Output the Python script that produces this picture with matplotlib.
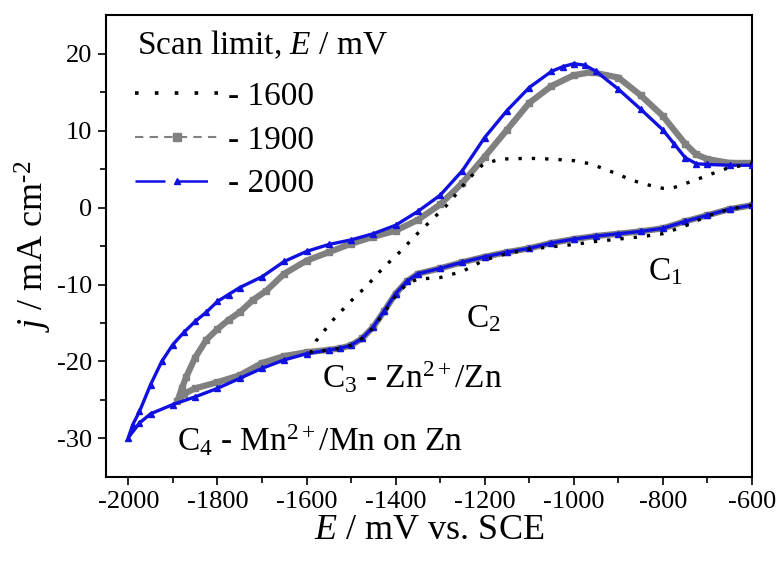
import matplotlib
matplotlib.use("Agg")
import matplotlib.pyplot as plt
from matplotlib.lines import Line2D

plt.rcParams['font.family'] = ['Liberation Serif', 'DejaVu Serif']
plt.rcParams['mathtext.fontset'] = 'custom'
plt.rcParams['mathtext.rm'] = 'Liberation Serif'
plt.rcParams['mathtext.it'] = 'Liberation Serif:italic'
plt.rcParams['mathtext.default'] = 'regular'
plt.rcParams['axes.unicode_minus'] = False

# scan limit -1600 mV (cathodic then anodic)
E_1600 = [-600, -650, -700, -750, -800, -850, -900, -950, -1000, -1050, -1100, -1150,
          -1200, -1250, -1300, -1350, -1375, -1400, -1425, -1450, -1475, -1500, -1525,
          -1550, -1590,
          -1578, -1542, -1503, -1465, -1429, -1391, -1353, -1317, -1280, -1240, -1204,
          -1166, -1100, -1050, -1000, -964, -930, -900, -867, -830, -800, -780, -755,
          -717, -680, -656, -600]
j_1600 = [0.3, -0.2, -1.1, -2.4, -3.4, -3.8, -4.1, -4.4, -4.8, -5.1, -5.4, -6.0,
          -6.8, -8.3, -9.1, -9.3, -9.9, -11.5, -13.6, -15.6, -17.0, -17.9, -18.3,
          -18.5, -18.8,
          -17.3, -14.7, -12.3, -10.2, -7.9, -5.8, -3.5, -1.5, 0.6, 3.5, 5.6,
          6.3, 6.4, 6.3, 6.1, 5.7, 5.0, 4.3, 3.5, 2.9, 2.5, 2.5, 3.0,
          3.8, 4.6, 5.1, 5.7]

# scan limit -1900 mV
E_1900 = [-600, -650, -700, -750, -800, -850, -900, -950, -1000, -1050, -1100, -1150,
          -1200, -1250, -1300, -1350, -1375, -1400, -1425, -1450, -1475, -1500, -1525,
          -1550, -1600, -1650, -1700, -1750, -1800, -1850, -1875, -1890,
          -1880, -1870, -1850, -1825, -1800, -1775, -1750, -1720, -1690, -1650, -1600,
          -1550, -1500, -1450, -1400, -1350, -1300, -1250, -1200, -1150, -1100, -1050,
          -1000, -960, -900, -850, -800, -750, -725, -700, -650, -600]
j_1900 = [0.3, -0.2, -1.0, -1.8, -2.7, -3.1, -3.4, -3.7, -4.1, -4.6, -5.3, -5.8,
          -6.4, -7.1, -7.9, -8.6, -9.6, -11.2, -13.4, -15.5, -17.0, -17.9, -18.3,
          -18.5, -18.8, -19.3, -20.2, -21.8, -22.7, -23.5, -24.2, -25.2,
          -23.5, -22.0, -19.5, -17.2, -15.8, -14.6, -13.6, -12.0, -10.8, -8.6, -6.9,
          -5.8, -4.7, -3.8, -3.0, -1.6, 0.4, 3.2, 6.6, 10.1, 13.6, 15.8,
          17.2, 17.6, 16.9, 14.6, 11.9, 8.3, 6.9, 6.3, 5.8, 5.8]

# scan limit -2000 mV
E_2000 = [-600, -650, -700, -750, -800, -850, -900, -950, -1000, -1050, -1100, -1150,
          -1200, -1250, -1300, -1350, -1375, -1400, -1425, -1450, -1475, -1500, -1525,
          -1550, -1600, -1650, -1700, -1750, -1800, -1850, -1900, -1950, -1975, -2000,
          -1990, -1975, -1950, -1925, -1900, -1875, -1850, -1825, -1800, -1775, -1750,
          -1700, -1650, -1600, -1550, -1500, -1450, -1400, -1350, -1300, -1250, -1200,
          -1150, -1100, -1050, -1025, -1000, -975, -950, -900, -850, -800, -775, -750,
          -725, -700, -650, -600]
j_2000 = [0.3, -0.2, -1.0, -1.8, -2.7, -3.1, -3.4, -3.7, -4.1, -4.6, -5.3, -5.8,
          -6.4, -7.1, -7.9, -8.6, -9.6, -11.2, -13.4, -15.5, -17.0, -17.9, -18.3,
          -18.5, -19.0, -19.8, -20.9, -22.2, -23.5, -24.6, -25.6, -26.8, -28.0, -29.9,
          -28.2, -26.5, -23.0, -20.0, -17.8, -16.2, -14.8, -13.6, -12.2, -11.3, -10.4,
          -9.0, -7.0, -5.7, -4.8, -4.2, -3.4, -2.3, -0.5, 1.6, 4.8, 9.1,
          12.6, 15.6, 17.7, 18.3, 18.7, 18.5, 17.7, 15.4, 12.8, 10.1, 8.3, 6.5,
          5.7, 5.6, 5.5, 5.5]

labels = ['- 1600', '- 1900', '- 2000']
blue = '#1010e0'
gray = '#808080'

fig = plt.figure(figsize=(7.8, 5.63), dpi=100)
ax = fig.add_axes([0.136, 0.153, 0.828, 0.820])

ax.plot(E_1900, j_1900, color=gray, lw=4.5, marker='s', ms=5, mec=gray, zorder=2)
ax.plot(E_2000, j_2000, color=blue, lw=2.4, marker='^', ms=4, mec=blue, zorder=3)
ax.plot(E_1600, j_1600, color='black', lw=2.4, ls=(0, (1, 3)), zorder=4)

ax.set_xlim(-2050, -600)
ax.set_ylim(-35, 25)
ax.set_xticks(range(-2000, -599, 200))
ax.set_xticks(range(-1900, -600, 200), minor=True)
ax.set_yticks(range(-30, 21, 10))
ax.set_yticks(range(-25, 25, 10), minor=True)
ax.tick_params(which='both', direction='out', width=1.2, labelsize=19, top=False, right=False)
ax.tick_params(which='major', length=6, pad=4)
ax.tick_params(which='minor', length=4)
for s in ax.spines.values():
    s.set_linewidth(1.5)

ax.set_xlabel(r'$\mathit{E}$ / mV vs. SCE', fontsize=26, labelpad=1)
ax.set_ylabel(r'$\mathit{j}$ / mA cm$^{\text{-}2}$', fontsize=26, labelpad=2)

ax.text(-834, -9.5, 'C$_1$', fontsize=24)
ax.text(-1243, -15.6, 'C$_2$', fontsize=24)
ax.text(-1566, -23.5, 'C$_3$ - Zn$^{2+}$/Zn', fontsize=24)
ax.text(-1890, -31.6, 'C$_4$ - Mn$^{2+}$/Mn on Zn', fontsize=24)

ax.text(0.048, 0.935, r'Scan limit, $\mathit{E}$ / mV', transform=ax.transAxes,
        fontsize=24, va='center', ha='left')

handles = [
    Line2D([], [], color='black', lw=2.6, ls=(0, (1, 4.5))),
    Line2D([], [], color=gray, lw=1.5, ls=(0, (4, 3)), marker='s', ms=6),
    Line2D([], [], color=blue, lw=1.8, ls=(0, (12, 5)), marker='^', ms=5),
]
leg = ax.legend(handles, labels, loc='center left', bbox_to_anchor=(0.045, 0.729),
                frameon=False, fontsize=24, handlelength=2.5, handletextpad=0.3,
                labelspacing=0.4, borderpad=0, borderaxespad=0, numpoints=1)

fig.savefig('out.png', dpi=100)
